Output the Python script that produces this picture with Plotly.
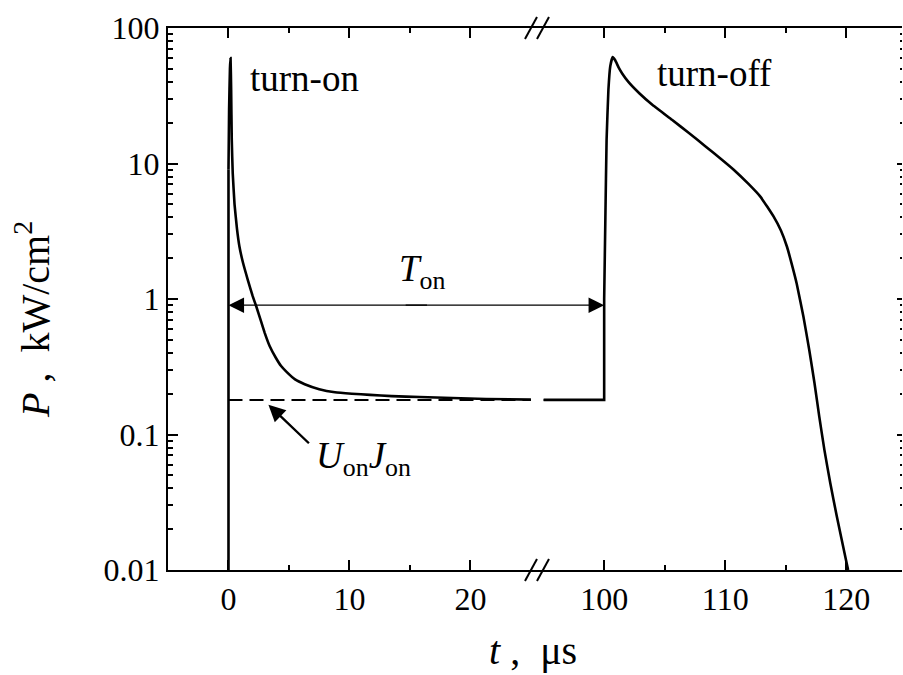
import math
import plotly.graph_objects as go

# ---- data ----
# turn-on transient (left part of the broken time axis)
t_on_rise = [0.0, 0.0]
p_on_rise = [0.01, 9.0]
t_on = [0.0, 0.05, 0.12, 0.17, 0.22, 0.27, 0.35, 0.5, 0.7, 0.9, 1.2, 1.6, 2.0, 2.3, 2.7,
        3.0, 3.4, 3.9, 4.35, 4.8, 5.5, 6.3, 7.5, 8.8, 10.2, 11.7, 13.5, 15.8, 18.5,
        21.3, 25.0]
p_on = [9.0, 25.0, 50.0, 60.0, 35.0, 15.0, 8.5, 5.0, 3.3, 2.45, 1.85, 1.38, 1.05, 0.88, 0.68,
        0.56, 0.45, 0.37, 0.32, 0.29, 0.255, 0.235, 0.216, 0.205, 0.2, 0.196, 0.192, 0.189,
        0.186, 0.183, 0.181]

# turn-off transient (right part of the broken time axis)
t_off_flat = [95.0, 100.0, 100.0]
p_off_flat = [0.18, 0.18, 1.0]
t_off = [100.0, 100.1, 100.2, 100.35, 100.5, 100.7, 100.9, 101.2, 101.5, 102.0, 102.9,
         104.0, 105.6, 107.0, 108.4, 109.6, 110.7, 111.9, 112.9, 114.0, 114.6, 115.1,
         115.5, 115.9, 116.46, 116.94, 117.37, 117.77, 118.19, 118.67, 119.21, 119.96, 120.15]
p_off = [1.0, 4.0, 15.0, 35.0, 52.0, 61.0, 58.0, 51.0, 46.0, 40.0, 33.0,
         27.0, 21.0, 16.8, 13.3, 10.9, 9.0, 7.1, 5.7, 4.05, 3.2, 2.43,
         1.8, 1.3, 0.74, 0.42, 0.24, 0.135, 0.077, 0.044, 0.025, 0.012, 0.01]

ref_level = 0.18          # U_on * J_on
t_ref_left = [0.0, 25.0]
t_ref_right = [95.0, 100.0]
ton_level = 0.9           # height of the T_on arrow
ton_start, ton_end = 0.0, 100.0
ujon_point = (3.3, 0.166)

x_ticks_left = [0, 10, 20]
x_minor_left = [5, 15]
x_ticks_right = [100, 110, 120]
x_minor_right = [105, 115]
y_ticks = [0.01, 0.1, 1, 10, 100]
y_ticktext = ["0.01", "0.1", "1", "10", "100"]

FONT = "Liberation Serif, Times New Roman, Times, serif"
split = 0.5027

fig = go.Figure()
lin = dict(color="black", width=2.6)
spl = dict(color="black", width=2.6, shape="spline", smoothing=0.35)
fig.add_trace(go.Scatter(x=t_on_rise, y=p_on_rise, mode="lines", line=lin, xaxis="x", yaxis="y"))
fig.add_trace(go.Scatter(x=t_on, y=p_on, mode="lines", line=spl, xaxis="x", yaxis="y"))
fig.add_trace(go.Scatter(x=t_off_flat, y=p_off_flat, mode="lines", line=lin, xaxis="x2", yaxis="y"))
fig.add_trace(go.Scatter(x=t_off, y=p_off, mode="lines", line=spl, xaxis="x2", yaxis="y"))
dash = dict(color="black", width=2, dash="14px,7px")
fig.add_trace(go.Scatter(x=t_ref_left, y=[ref_level] * 2, mode="lines", line=dash,
                         xaxis="x", yaxis="y"))
fig.add_trace(go.Scatter(x=t_ref_right, y=[ref_level] * 2, mode="lines", line=dash,
                         xaxis="x2", yaxis="y"))
# invisible trace for right-hand tick axis
fig.add_trace(go.Scatter(x=[110], y=[1], mode="markers", marker=dict(opacity=0),
                         xaxis="x2", yaxis="y2", hoverinfo="skip"))

xcommon = dict(showline=True, linecolor="black", linewidth=2, mirror="ticks",
               ticks="inside", ticklen=10, tickwidth=2, tickcolor="black",
               showgrid=False, zeroline=False,
               tickfont=dict(family=FONT, size=32, color="black"))

fig.update_layout(
    width=903, height=675,
    margin=dict(l=168, r=1, t=28, b=105),
    paper_bgcolor="white", plot_bgcolor="white",
    showlegend=False,
    font=dict(family=FONT, color="black"),
    xaxis=dict(domain=[0, split], range=[-5, 25.5], tickmode="array",
               tickvals=x_ticks_left, anchor="y",
               minor=dict(tickmode="array", tickvals=x_minor_left, ticks="inside",
                          ticklen=5, tickwidth=2, tickcolor="black", showgrid=False),
               **xcommon),
    xaxis2=dict(domain=[split, 1], range=[94.45, 124.6], tickmode="array",
                tickvals=x_ticks_right, anchor="y",
                minor=dict(tickmode="array", tickvals=x_minor_right, ticks="inside",
                           ticklen=5, tickwidth=2, tickcolor="black", showgrid=False),
                **xcommon),
    yaxis=dict(type="log", range=[-2, 2], anchor="x", side="left",
               showline=True, linecolor="black", linewidth=2,
               ticks="inside", ticklen=10, tickwidth=2, tickcolor="black",
               tickmode="array", tickvals=y_ticks, ticktext=y_ticktext,
               minor=dict(dtick="D1", ticks="inside", ticklen=5, tickwidth=1.5,
                          tickcolor="black", showgrid=False),
               showgrid=False, zeroline=False,
               tickfont=dict(family=FONT, size=32, color="black")),
    yaxis2=dict(type="log", range=[-2, 2], overlaying="y", side="right", anchor="x2",
                showline=False, showticklabels=False,
                ticks="inside", ticklen=5, tickwidth=1.5, tickcolor="black", dtick=1,
                minor=dict(dtick="D1", ticks="inside", ticklen=2, tickwidth=1.5,
                           tickcolor="black", showgrid=False),
                showgrid=False, zeroline=False),
)

ly = math.log10(ton_level)
fig.add_annotation(x=ton_start, y=ly, xref="x", yref="y", ax=200, ay=0, text="",
                   showarrow=True, arrowhead=2, arrowsize=2.4, arrowwidth=1.3,
                   arrowcolor="black", standoff=0)
fig.add_annotation(x=ton_end, y=ly, xref="x2", yref="y", ax=-200, ay=0, text="",
                   showarrow=True, arrowhead=2, arrowsize=2.4, arrowwidth=1.3,
                   arrowcolor="black", standoff=0)
# U_on J_on arrow
fig.add_annotation(x=ujon_point[0], y=math.log10(ujon_point[1]), xref="x", yref="y",
                   ax=42, ay=40, text="",
                   showarrow=True, arrowhead=2, arrowsize=1.4, arrowwidth=2.4,
                   arrowcolor="black", standoff=0)

tf = dict(family=FONT, size=37, color="black")
txt = [
    dict(x=248, y=79, text="turn-on", xanchor="left", font=tf),
    dict(x=655, y=73, text="turn-off", xanchor="left", font=tf),
    dict(x=422, y=271, text="<i>T</i><sub>on</sub>", xanchor="center", font=tf),
    dict(x=363, y=458, text="<i>U</i><sub>on</sub><i>J</i><sub>on</sub>",
         xanchor="center", font=tf),
    dict(x=533, y=650, text="<i>t</i> ,  μs", xanchor="center",
         font=dict(family=FONT, size=40, color="black")),
]
L, R, T, B = 168, 902, 28, 570
for d in txt:
    fig.add_annotation(x=(d["x"] - L) / (R - L), y=(B - d["y"]) / (B - T),
                       xref="paper", yref="paper", text=d["text"], showarrow=False,
                       xanchor=d["xanchor"], yanchor="middle", font=d["font"])
fig.add_annotation(x=(32 - L) / (R - L), y=(B - 320) / (B - T), xref="paper", yref="paper",
                   text="<i>P</i> ,  kW/cm<sup>2</sup>", showarrow=False, textangle=-90,
                   xanchor="center", yanchor="middle",
                   font=dict(family=FONT, size=40, color="black"))

# axis break marks
for yp in (0, 1):
    for c in (-6, 6):
        fig.add_shape(type="line", xref="paper", yref="paper",
                      xsizemode="pixel", ysizemode="pixel",
                      xanchor=split, yanchor=yp,
                      x0=c - 6, x1=c + 6, y0=-11, y1=11,
                      line=dict(color="black", width=2))

fig.write_html("out.html", config={"displayModeBar": False},
               post_script="document.body.style.margin='0';"
                           "document.body.style.overflow='hidden';")
